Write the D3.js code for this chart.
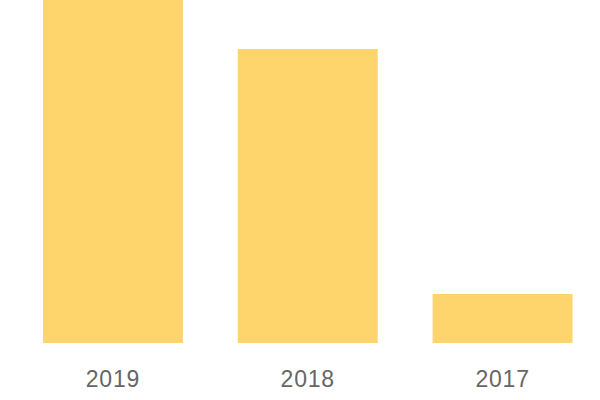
<!DOCTYPE html>
<html>
<head>
<meta charset="utf-8">
<script src="https://cdn.jsdelivr.net/npm/d3@7"></script>
<style>
  body { margin: 0; background: #fff; }
  .axis text { font-family: "Liberation Sans", Arial, sans-serif; font-size: 23px; fill: #666; letter-spacing: 0.8px; }
</style>
</head>
<body>
<svg id="chart"></svg>
<script>
const years = ['2019', '2018', '2017'];
const values = [7, 6, 1];

const width = 600;
const height = 400;
const baseline = 343;

const svg = d3.select('#chart')
  .attr('width', width)
  .attr('height', height);

const x = d3.scaleBand()
  .domain(years)
  .range([15.5, 600])
  .paddingInner(0.282)
  .paddingOuter(0.141);

const y = d3.scaleLinear()
  .domain([0, 7])
  .range([baseline, 0]);

svg.selectAll('.bar')
  .data(years)
  .enter()
  .append('rect')
  .attr('class', 'bar')
  .attr('x', d => x(d))
  .attr('width', x.bandwidth())
  .attr('y', (d, i) => y(values[i]))
  .attr('height', (d, i) => baseline - y(values[i]))
  .style('fill', '#fed46c');

// year labels under the bars
const axis = svg.append('g')
  .attr('class', 'axis')
  .attr('transform', `translate(0,${baseline})`)
  .call(d3.axisBottom(x).tickSize(0).tickPadding(28));

axis.select('.domain').remove();
axis.selectAll('text').attr('font-size', null).attr('font-family', null);
</script>
</body>
</html>
